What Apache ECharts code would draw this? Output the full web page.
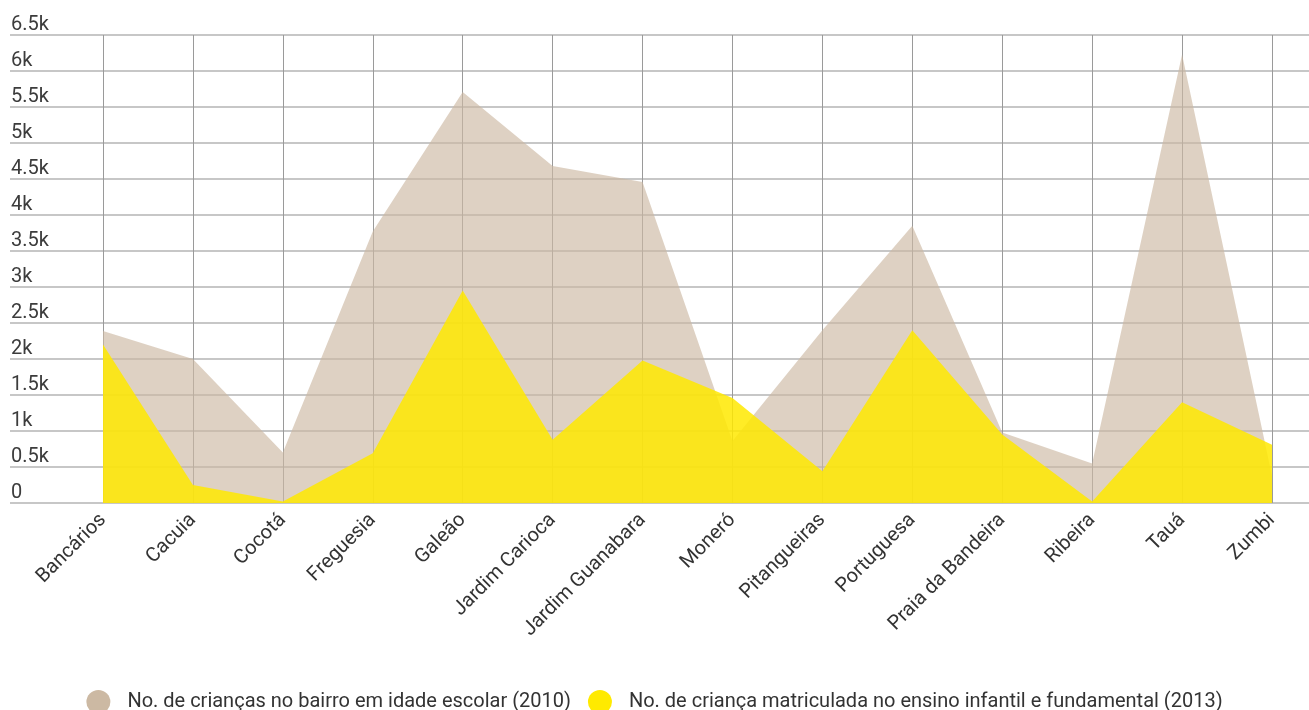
<!DOCTYPE html>
<html>
<head>
<meta charset="utf-8">
<script src="https://cdn.jsdelivr.net/npm/echarts@6/dist/echarts.min.js"></script>
<style>
  html, body { margin: 0; padding: 0; background: #ffffff; }
  #chart { width: 1309px; height: 710px; }
</style>
</head>
<body>
<div id="chart"></div>
<script>
// Bairros da Ilha do Governador
const categories = ['Bancários', 'Cacuia', 'Cocotá', 'Freguesia', 'Galeão', 'Jardim Carioca',
  'Jardim Guanabara', 'Moneró', 'Pitangueiras', 'Portuguesa', 'Praia da Bandeira', 'Ribeira', 'Tauá', 'Zumbi'];

// Crianças em idade escolar por bairro (2010)
const criancas2010 = [2390, 2000, 700, 3770, 5710, 4680, 4460, 860, 2400, 3850, 980, 550, 6230, 380];

// Crianças matriculadas no ensino infantil e fundamental (2013)
const matriculas2013 = [2200, 250, 20, 690, 2950, 880, 1980, 1460, 440, 2400, 950, 20, 1400, 810];

const seriesNames = [
  'No. de crianças no bairro em idade escolar (2010)',
  'No. de criança matriculada no ensino infantil e fundamental (2013)'
];

const yMin = 0, yMax = 6500, yStep = 500;

function kLabel(v) {
  if (v === 0) return '0';
  return (v / 1000) + 'k';
}

const chart = echarts.init(document.getElementById('chart'), null, { renderer: 'canvas' });

const fontFamily = 'Roboto, "Noto Sans", sans-serif';

chart.setOption({
  backgroundColor: '#ffffff',
  animation: false,
  textStyle: { fontFamily: fontFamily },
  legend: {
    top: 685,
    left: 'center',
    itemWidth: 24,
    itemHeight: 24,
    itemGap: 17,
    icon: 'circle',
    textStyle: { fontSize: 20, color: '#333333', fontFamily: fontFamily, padding: [0, 0, 0, 12] },
    data: [
      { name: seriesNames[0], itemStyle: { color: '#ccb9a3', opacity: 1 } },
      { name: seriesNames[1], itemStyle: { color: '#ffea00', opacity: 1 } }
    ]
  },
  grid: [
    // full-width grid carrying the horizontal lines and value labels
    { left: 10, right: 0, top: 35, bottom: 207, containLabel: false },
    // plotting grid for the areas
    { left: 103, right: 37, top: 35, bottom: 207, containLabel: false }
  ],
  xAxis: [
    { type: 'value', gridIndex: 0, show: false, min: 0, max: 1 },
    {
      type: 'category',
      gridIndex: 1,
      data: categories,
      boundaryGap: false,
      axisLine: { show: false },
      axisTick: { show: false },
      splitLine: { show: true, lineStyle: { color: '#9a9a9a', width: 1 } },
      axisLabel: {
        rotate: 45,
        interval: 0,
        margin: 14,
        fontSize: 20,
        color: '#333333',
        fontFamily: fontFamily
      }
    }
  ],
  yAxis: [
    {
      type: 'value',
      gridIndex: 0,
      min: yMin,
      max: yMax,
      interval: yStep,
      axisLine: { show: false },
      axisTick: { show: false },
      splitLine: { show: true, lineStyle: { color: '#b4b4b4', width: 1.5 } },
      axisLabel: {
        inside: true,
        margin: 1,
        align: 'left',
        verticalAlign: 'bottom',
        padding: [0, 0, 0, 0],
        fontSize: 20,
        color: '#3c3c3c',
        fontFamily: fontFamily,
        formatter: kLabel
      }
    },
    {
      type: 'value',
      gridIndex: 1,
      min: yMin,
      max: yMax,
      interval: yStep,
      show: false,
      splitLine: { show: false }
    }
  ],
  series: [
    {
      name: seriesNames[0],
      type: 'line',
      xAxisIndex: 1,
      yAxisIndex: 1,
      data: criancas2010,
      symbol: 'none',
      lineStyle: { width: 0 },
      itemStyle: { color: '#ccb9a3' },
      areaStyle: { color: '#ccb9a3', opacity: 0.65 },
      z: 2
    },
    {
      name: seriesNames[1],
      type: 'line',
      xAxisIndex: 1,
      yAxisIndex: 1,
      data: matriculas2013,
      symbol: 'none',
      lineStyle: { width: 0 },
      itemStyle: { color: '#ffea00' },
      areaStyle: { color: '#ffe900', opacity: 0.85 },
      z: 3
    }
  ]
});
</script>
</body>
</html>
